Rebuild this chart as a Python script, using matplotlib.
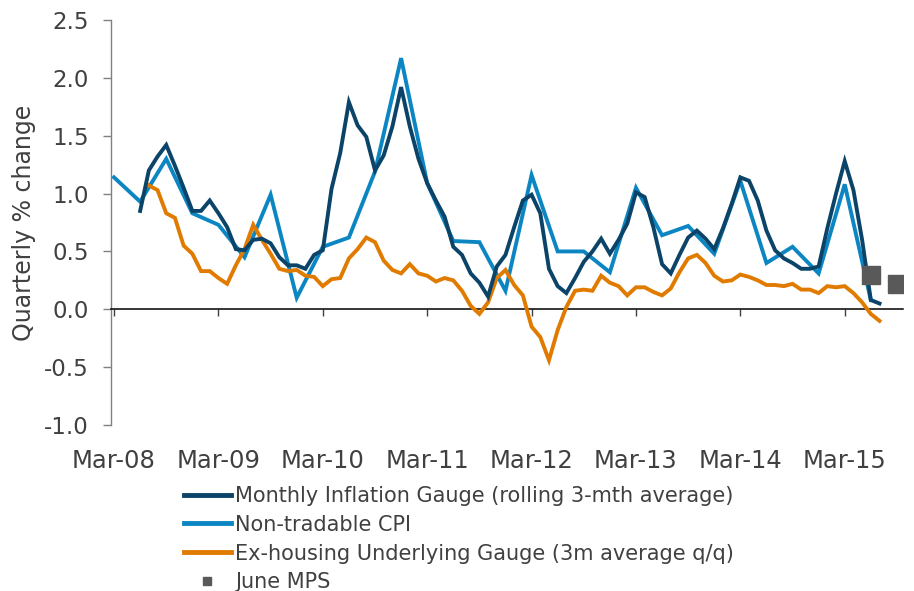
import matplotlib
matplotlib.use("Agg")
import matplotlib.pyplot as plt
from matplotlib.lines import Line2D
import numpy as np
import pandas as pd

# colours
NAVY = "#0B4468"
BLUE = "#0C86C2"
ORANGE = "#E07B00"
GREY_SQ = "#595959"
TEXT = "#404040"
SPINE = "#808080"

plt.rcParams["font.family"] = ["DejaVu Sans"]
plt.rcParams["axes.unicode_minus"] = False

# ---------------------------------------------------------------------------
# data
# ---------------------------------------------------------------------------
START = pd.Period("2008-03", freq="M")

# Monthly Inflation Gauge (rolling 3-mth average), Jun-08 .. Jul-15
mig_start = "2008-06"
mig = [0.85, 1.20, 1.32, 1.42, 1.24, 1.05, 0.85,
       0.85, 0.94, 0.83, 0.71, 0.52, 0.51, 0.60, 0.61, 0.57, 0.45, 0.38, 0.38,
       0.35, 0.47, 0.51, 1.04, 1.35, 1.79, 1.59, 1.49, 1.20, 1.33, 1.58, 1.92,
       1.58, 1.30, 1.09, 0.94, 0.80, 0.54, 0.47, 0.31, 0.23, 0.11, 0.37, 0.47,
       0.71, 0.94, 0.99, 0.83, 0.35, 0.20, 0.14, 0.27, 0.41, 0.50, 0.61, 0.48,
       0.60, 0.74, 1.01, 0.97, 0.71, 0.39, 0.31, 0.47, 0.62, 0.68, 0.61, 0.52,
       0.70, 0.91, 1.14, 1.11, 0.94, 0.68, 0.51, 0.44, 0.40, 0.35, 0.35, 0.37,
       0.70, 1.00, 1.28, 1.03, 0.60, 0.08, 0.05]

# Non-tradable CPI, quarterly, Mar-08 .. Jun-15
ntc_start = "2008-03"
ntc = [1.14, 0.93, 1.30, 0.83, 0.73, 0.45, 0.99, 0.10, 0.54, 0.62,
       1.19, 2.17, 1.09, 0.59, 0.58, 0.16, 1.16, 0.50, 0.50, 0.32,
       1.05, 0.64, 0.72, 0.48, 1.11, 0.40, 0.54, 0.31, 1.08, 0.08]

# Ex-housing Underlying Gauge (3m average q/q), Jul-08 .. Jul-15
exh_start = "2008-07"
exh = [1.07, 1.03, 0.83, 0.79, 0.55, 0.48,
       0.33, 0.33, 0.27, 0.22, 0.38, 0.52, 0.73, 0.60, 0.48, 0.35, 0.33, 0.34,
       0.29, 0.28, 0.20, 0.26, 0.27, 0.44, 0.52, 0.62, 0.58, 0.42, 0.34, 0.31,
       0.39, 0.31, 0.29, 0.24, 0.27, 0.25, 0.16, 0.03, -0.04, 0.06, 0.27, 0.34,
       0.21, 0.12, -0.15, -0.24, -0.44, -0.18, 0.02, 0.16, 0.17, 0.16, 0.29, 0.23,
       0.20, 0.12, 0.19, 0.19, 0.15, 0.12, 0.18, 0.32, 0.44, 0.47, 0.40, 0.29,
       0.24, 0.25, 0.30, 0.28, 0.25, 0.21, 0.21, 0.20, 0.22, 0.17, 0.17, 0.14,
       0.20, 0.19, 0.20, 0.14, 0.06, -0.04, -0.10]

# June MPS forecasts
mps_months = ["2015-06", "2015-09"]
mps = [0.30, 0.22]

tick_labels = ["Mar-08", "Mar-09", "Mar-10", "Mar-11",
               "Mar-12", "Mar-13", "Mar-14", "Mar-15"]


def month_pos(start, n, step=1):
    s = pd.Period(start, freq="M")
    return np.array([(s - START).n + i * step for i in range(n)], dtype=float)


x_mig = month_pos(mig_start, len(mig))
x_ntc = month_pos(ntc_start, len(ntc), step=3)
x_exh = month_pos(exh_start, len(exh))
x_mps = np.array([(pd.Period(m, freq="M") - START).n for m in mps_months], dtype=float)

# ---------------------------------------------------------------------------
fig = plt.figure(figsize=(9.14, 5.91), dpi=100)
ax = fig.add_axes([111 / 914, 1 - 425 / 591, (903 - 111) / 914, (425 - 20) / 591])

LW = 2.8
ax.plot(x_mig, mig, color=NAVY, lw=LW, solid_joinstyle="miter", zorder=4)
ax.plot(x_ntc, ntc, color=BLUE, lw=LW, solid_joinstyle="miter", zorder=3)
ax.plot(x_exh, exh, color=ORANGE, lw=LW, solid_joinstyle="miter", zorder=3)
ax.plot(x_mps, mps, ls="none", marker="s", ms=13, color=GREY_SQ, zorder=5)

ax.set_xlim(-0.35, 90.7)
ax.set_ylim(-1.0, 2.5)
ax.set_yticks(np.arange(-1.0, 2.51, 0.5))
ax.set_yticklabels([f"{v:.1f}" for v in np.arange(-1.0, 2.51, 0.5)])

for s in ("top", "right"):
    ax.spines[s].set_visible(False)
ax.spines["left"].set_color(SPINE)
ax.spines["left"].set_linewidth(1.0)
ax.spines["bottom"].set_position(("data", 0))
ax.spines["bottom"].set_color("black")
ax.spines["bottom"].set_linewidth(1.1)

ax.tick_params(axis="y", colors=SPINE, labelcolor=TEXT, labelsize=16.5,
               length=6, width=1.0, pad=10)
ax.set_xticks(np.arange(0, 85, 12))
ax.tick_params(axis="x", colors="#404040", length=5, width=1.0,
               labelbottom=False)

sec = ax.secondary_xaxis(0)
sec.set_xticks(np.arange(0, 85, 12))
sec.set_xticklabels(tick_labels)
sec.tick_params(axis="x", length=0, pad=17, labelsize=17.5, labelcolor=TEXT)
sec.spines["bottom"].set_visible(False)

ax.set_ylabel("Quarterly % change", fontsize=17, color=TEXT)
ax.yaxis.set_label_coords(-0.095, 0.5)

handles = [
    Line2D([], [], color=NAVY, lw=3.5),
    Line2D([], [], color=BLUE, lw=3.5),
    Line2D([], [], color=ORANGE, lw=3.5),
    Line2D([], [], ls="none", marker="s", ms=6, color=GREY_SQ),
]
labels = ["Monthly Inflation Gauge (rolling 3-mth average)",
          "Non-tradable CPI",
          "Ex-housing Underlying Gauge (3m average q/q)",
          "June MPS"]
fig.legend(handles, labels, loc="upper left", bbox_to_anchor=(184 / 914, 1 - 486 / 591),
           frameon=False, fontsize=15, labelcolor=TEXT, handlelength=2.25,
           handletextpad=0.2, labelspacing=0.42, borderpad=0, borderaxespad=0)

fig.savefig("out.png", dpi=100, facecolor="white")
